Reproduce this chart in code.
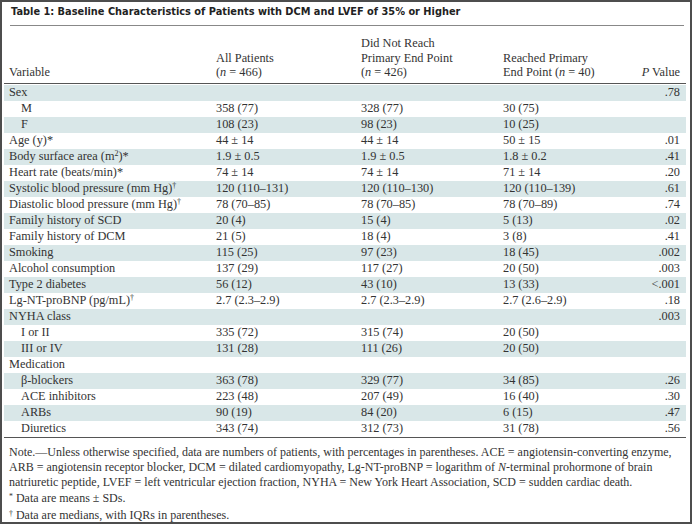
<!DOCTYPE html>
<html><head><meta charset="utf-8">
<script src="https://cdn.jsdelivr.net/npm/chart.js@4"></script>
<style>
html,body{margin:0;padding:0;background:#fff;}
#frame{position:absolute;left:0;top:0;width:692px;height:524px;box-sizing:border-box;border:2px solid #4d4d4d;overflow:hidden;}
.t{position:absolute;white-space:nowrap;font-family:"Liberation Serif","Times New Roman",serif;font-size:12.3px;color:#333;line-height:15px;}
.t sup{font-size:65%;line-height:0;vertical-align:0.45em;}
.n{font-size:12px;}
.title{position:absolute;left:9px;top:4px;font-family:"DejaVu Sans",sans-serif;font-weight:bold;font-size:9.8px;color:#222;white-space:nowrap;}
.hl{position:absolute;height:1px;}
.band{position:absolute;left:2px;width:682px;background:#d9e7e8;}
.r{text-align:right;}
</style></head>
<body><div id="frame"></div>
<script>
const titleText = "Table 1: Baseline Characteristics of Patients with DCM and LVEF of 35% or Higher";
const headerLines = [
  ["Variable"],
  ["All Patients", "(<i>n</i> = 466)"],
  ["Did Not Reach", "Primary End Point", "(<i>n</i> = 426)"],
  ["Reached Primary", "End Point (<i>n</i> = 40)"],
  ["<i>P</i> Value"]
];
const variables = ["Sex","M","F","Age (y)*","Body surface area (m<sup>2</sup>)*","Heart rate (beats/min)*",
  "Systolic blood pressure (mm Hg)<sup>†</sup>","Diastolic blood pressure (mm Hg)<sup>†</sup>",
  "Family history of SCD","Family history of DCM","Smoking","Alcohol consumption","Type 2 diabetes",
  "Lg-NT-proBNP (pg/mL)<sup>†</sup>","NYHA class","I or II","III or IV","Medication",
  "β-blockers","ACE inhibitors","ARBs","Diuretics"];
const indented = [0,1,1,0,0,0,0,0,0,0,0,0,0,0,0,1,1,0,1,1,1,1];
const allPatients = ["","358 (77)","108 (23)","44 ± 14","1.9 ± 0.5","74 ± 14","120 (110–131)","78 (70–85)",
  "20 (4)","21 (5)","115 (25)","137 (29)","56 (12)","2.7 (2.3–2.9)","","335 (72)","131 (28)","",
  "363 (78)","223 (48)","90 (19)","343 (74)"];
const notReached = ["","328 (77)","98 (23)","44 ± 14","1.9 ± 0.5","74 ± 14","120 (110–130)","78 (70–85)",
  "15 (4)","18 (4)","97 (23)","117 (27)","43 (10)","2.7 (2.3–2.9)","","315 (74)","111 (26)","",
  "329 (77)","207 (49)","84 (20)","312 (73)"];
const reached = ["","30 (75)","10 (25)","50 ± 15","1.8 ± 0.2","71 ± 14","120 (110–139)","78 (70–89)",
  "5 (13)","3 (8)","18 (45)","20 (50)","13 (33)","2.7 (2.6–2.9)","","20 (50)","20 (50)","",
  "34 (85)","16 (40)","6 (15)","31 (78)"];
const pValues = [".78","","",".01",".41",".20",".61",".74",".02",".41",".002",".003","&lt;.001",".18",".003","","","",
  ".26",".30",".47",".56"];
const notes = [
  "Note.—Unless otherwise specified, data are numbers of patients, with percentages in parentheses. ACE = angiotensin-converting enzyme,",
  "ARB = angiotensin receptor blocker, DCM = dilated cardiomyopathy, Lg-NT-proBNP = logarithm of <i>N</i>-terminal prohormone of brain",
  "natriuretic peptide, LVEF = left ventricular ejection fraction, NYHA = New York Heart Association, SCD = sudden cardiac death."
];
const footnotes = ["<sup>*</sup> Data are means ± SDs.", "<sup>†</sup> Data are medians, with IQRs in parentheses."];

const frame = document.getElementById('frame');
function add(cls, html, x, y, extra){
  const d = document.createElement('div'); d.className = cls; d.innerHTML = html;
  d.style.left = x + 'px'; d.style.top = y + 'px';
  if (extra) Object.assign(d.style, extra);
  frame.appendChild(d); return d;
}
function line(y, x0, x1, color){
  const d = document.createElement('div'); d.className='hl';
  d.style.top=y+'px'; d.style.left=x0+'px'; d.style.width=(x1-x0)+'px'; d.style.background=color;
  frame.appendChild(d);
}
add('title', titleText, 9, 4);
line(23, 8, 682, '#888');
// header
const colX = [7, 214, 359, 501];
const lastRowY = 63;
headerLines.forEach((lines, c) => {
  const n = lines.length;
  lines.forEach((txt, i) => {
    const y = lastRowY - (n - 1 - i) * 14.5;
    if (c === 4) add('t r', txt, 0, y, {width: '678px', left: '0px'});
    else add('t', txt, colX[c], y);
  });
});
line(81, 2, 684, '#555');
const rowTop = 82.5, rowH = 16;
variables.forEach((v, i) => {
  const y = rowTop + i * rowH;
  if (i % 2 === 0) {
    const b = document.createElement('div'); b.className = 'band';
    b.style.top = y + 'px'; b.style.height = rowH + 'px'; frame.appendChild(b);
  }
});
variables.forEach((v, i) => {
  const y = rowTop + i * rowH + 0.5;
  add('t', v, colX[0] + (indented[i] ? 12 : 0), y);
  add('t', allPatients[i], colX[1], y);
  add('t', notReached[i], colX[2], y);
  add('t', reached[i], colX[3], y);
  add('t r', pValues[i], 0, y, {width: '678px'});
});
line(rowTop + variables.length * rowH, 2, 684, '#555');
notes.forEach((n, i) => add('t n', n, 7, 443 + i * 15));
footnotes.forEach((n, i) => add('t n', n, 7, 489 + i * 17));
</script></body></html>
